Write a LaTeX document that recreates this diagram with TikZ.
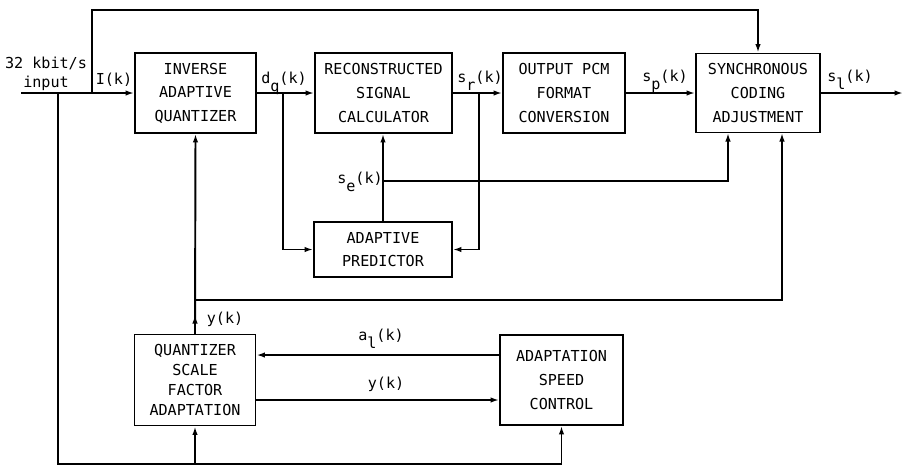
\documentclass[tikz,border=0pt]{standalone}
\usepackage{fontspec}
\setmainfont{DejaVu Sans Mono}
\usetikzlibrary{arrows.meta}
\newcommand\lowidx[1]{\raisebox{-0.55em}{#1}}

\begin{document}
\begin{tikzpicture}[x=0.02cm, y=-0.02cm, line width=1.1pt,
    >={Latex[length=1.7mm,width=1.1mm]},
    block/.style={draw, align=center, inner sep=0pt, font=\fontsize{8.6}{13.4}\selectfont},
    lbl/.style={anchor=base, inner sep=0pt, font=\fontsize{8.6}{10.8}\selectfont}]
    \useasboundingbox (0,0) rectangle (903,468);

            \node[block, minimum width=2.42cm, minimum height=1.6cm] (iaq) at (195.5,93) {INVERSE\\ADAPTIVE\\QUANTIZER};
            \node[block, minimum width=2.74cm, minimum height=1.6cm] (rsc) at (383.5,93) {RECONSTRUCTED\\SIGNAL\\CALCULATOR};
            \node[block, minimum width=2.44cm, minimum height=1.6cm] (opcm) at (564,93) {OUTPUT PCM\\FORMAT\\CONVERSION};
            \node[block, minimum width=2.48cm, minimum height=1.58cm] (sca) at (758,93) {SYNCHRONOUS\\CODING\\ADJUSTMENT};
            \node[block, minimum width=2.76cm, minimum height=1.1cm] (ap) at (383,249.5) {ADAPTIVE\\PREDICTOR};
            \node[block, minimum width=2.42cm, minimum height=1.82cm, font=\fontsize{8.6}{11.4}\selectfont] (qsfa) at (195,380) {QUANTIZER\\SCALE\\FACTOR\\ADAPTATION};
            \node[block, minimum width=2.46cm, minimum height=1.8cm] (asc) at (561.5,380) {ADAPTATION\\SPEED\\CONTROL};

            \coordinate (in) at (21,93);
            \coordinate (ltap) at (58,93);
            \coordinate (itap) at (92,93);
            \coordinate (topline) at (92,10);
            \coordinate (bl) at (58,464);
            \coordinate (dqtap) at (283,93);
            \coordinate (srtap) at (479,93);
            \coordinate (setap) at (383,181);
            \coordinate (ytap) at (195,300);
            \coordinate (ymark) at (195,315);
            \coordinate (scain1) at (728,133);
            \coordinate (scain2) at (782,133);
            \coordinate (out) at (903,93);

            \node[lbl] (inlbl1) at (46,68) {32 kbit/s};
            \node[lbl] (inlbl2) at (46,87) {input};
            \node[lbl] (ik) at (114,84) {I(k)};
            \node[lbl] (dq) at (284,83) {d\lowidx{q}(k)};
            \node[lbl] (sr) at (480,82) {s\lowidx{r}(k)};
            \node[lbl] (sp) at (665,81) {s\lowidx{p}(k)};
            \node[lbl] (sl) at (850,81) {s\lowidx{l}(k)};
            \node[lbl] (se) at (360,183) {s\lowidx{e}(k)};
            \node[lbl] (yk) at (225,323) {y(k)};
            \node[lbl] (al) at (381,340) {a\lowidx{l}(k)};
            \node[lbl] (yk2) at (386,388) {y(k)};

            \draw[->] (in) -- (iaq);
            \draw[->] (itap) -- (topline) -| (sca.north);
            \draw[->] (ltap) -- (bl) -| (asc.south);
            \draw[->] (qsfa.south |- bl) -- (qsfa.south);
            \draw[->] (iaq) -- (rsc);
            \draw[->] (rsc) -- (opcm);
            \draw[->] (opcm) -- (sca);
            \draw[->] (sca) -- (out);
            \draw[->] (dqtap) |- (ap);
            \draw[->] (srtap) |- (ap);
            \draw[->] (ap.north) -- (ap.north |- rsc.south);
            \draw[->] (setap) -| (scain1);
            \draw[->] (qsfa.north) -- (iaq.south);
            \draw[->] (qsfa.north) -- (ymark);
            \draw[->] (ytap) -| (scain2);
            \draw[->] ([yshift=0.5cm]asc.west) -- ([yshift=0.5cm]qsfa.east);
            \draw[->] ([yshift=-0.4cm]qsfa.east) -- ([yshift=-0.4cm]asc.west);
        \end{tikzpicture}
\end{document}
